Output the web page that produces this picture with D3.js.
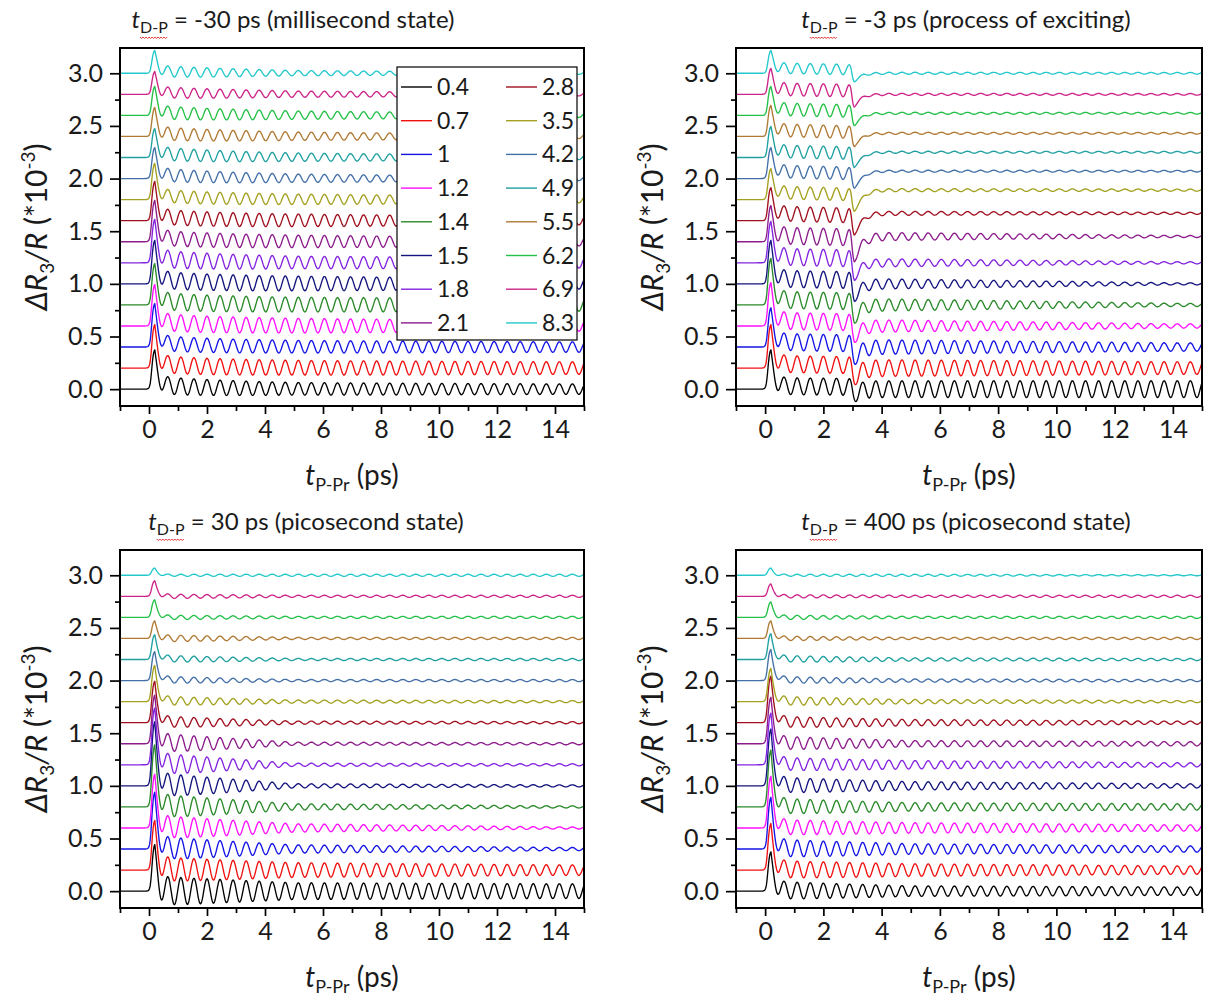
<!DOCTYPE html>
<html>
<head>
<meta charset="utf-8">
<script src="https://cdn.jsdelivr.net/npm/d3@7"></script>
<style>
  body { margin: 0; background: #fff; }
</style>
</head>
<body>
<div id="chart"></div>
<script>
// ---- data ----
const fluences = ["0.4", "0.7", "1", "1.2", "1.4", "1.5", "1.8", "2.1",
                  "2.8", "3.5", "4.2", "4.9", "5.5", "6.2", "6.9", "8.3"];
const offsets  = [0, 0.2, 0.4, 0.6, 0.8, 1.0, 1.2, 1.4, 1.6, 1.8, 2.0, 2.2, 2.4, 2.6, 2.8, 3.0];
const colors   = ["#000000", "#f01010", "#1414e6", "#ff10ff", "#2a8a2a", "#14147e", "#8424e0", "#8c1c8c",
                  "#a0101e", "#a4a020", "#4470a8", "#20a0a0", "#b07a34", "#24c048", "#cc2488", "#24c8cc"];
const xTicks = [0, 2, 4, 6, 8, 10, 12, 14];
const xMinor = [-1, 1, 3, 5, 7, 9, 11, 13, 15];
const yTicks = [0, 0.5, 1.0, 1.5, 2.0, 2.5, 3.0];
const yMinor = [0.25, 0.75, 1.25, 1.75, 2.25, 2.75];
const titleDelay = ["-30 ps (millisecond state)", "-3 ps (process of exciting)",
                    "30 ps (picosecond state)", "400 ps (picosecond state)"];
const phononPeriod = 0.45; // ps, spacing of the oscillation maxima

// panel A: t_D-P = -30 ps
const peakA  = [0.38, 0.42, 0.42, 0.40, 0.40, 0.42, 0.42, 0.40, 0.38, 0.35, 0.30, 0.28, 0.28, 0.28, 0.22, 0.22];
const osc1A  = [0.08, 0.08, 0.07, 0.08, 0.08, 0.08, 0.08, 0.07, 0.07, 0.06, 0.06, 0.06, 0.06, 0.06, 0.05, 0.05];
const osc5A  = [0.06, 0.07, 0.06, 0.07, 0.07, 0.07, 0.06, 0.06, 0.06, 0.05, 0.04, 0.04, 0.04, 0.04, 0.03, 0.025];
const osc14A = [0.05, 0.06, 0.05, 0.05, 0.06, 0.05, 0.05, 0.04, 0.04, 0.03, 0.02, 0.02, 0.02, 0.02, 0.015, 0.01];
const bgA    = [0.04, 0.04, 0.04, 0.04, 0.04, 0.04, 0.04, 0.04, 0.04, 0.04, 0.04, 0.04, 0.03, 0.03, 0.02, 0.02];

// panel B: t_D-P = -3 ps (before / after the 3 ps dip)
const peakB   = [0.38, 0.42, 0.38, 0.42, 0.45, 0.42, 0.40, 0.35, 0.32, 0.30, 0.30, 0.30, 0.30, 0.28, 0.25, 0.22];
const preB    = [0.08, 0.08, 0.08, 0.08, 0.08, 0.08, 0.08, 0.08, 0.07, 0.06, 0.06, 0.06, 0.06, 0.06, 0.06, 0.05];
const bgB     = [0.03, 0.04, 0.05, 0.05, 0.05, 0.05, 0.06, 0.06, 0.07, 0.07, 0.07, 0.06, 0.06, 0.06, 0.05, 0.05];
const dipB    = [0.05, 0.10, 0.12, 0.12, 0.14, 0.14, 0.15, 0.18, 0.14, 0.12, 0.10, 0.10, 0.10, 0.10, 0.12, 0.08];
const post4B  = [0.08, 0.08, 0.07, 0.06, 0.06, 0.05, 0.04, 0.04, 0.02, 0.015, 0.01, 0.01, 0.01, 0.01, 0.01, 0.01];
const post14B = [0.08, 0.06, 0.04, 0.02, 0.015, 0.01, 0.01, 0.01, 0.01, 0.01, 0.008, 0.008, 0.008, 0.008, 0.008, 0.008];
const shiftB  = [0, 0, 0, 0, 0, 0, 0, 0.05, 0.07, 0.09, 0.07, 0.05, 0.03, 0.02, 0, 0];

// panel C: t_D-P = 30 ps
const peakC  = [0.45, 0.48, 0.55, 0.52, 0.60, 0.62, 0.55, 0.47, 0.40, 0.35, 0.28, 0.24, 0.17, 0.17, 0.15, 0.07];
const osc1C  = [0.13, 0.11, 0.10, 0.10, 0.10, 0.10, 0.09, 0.08, 0.05, 0.04, 0.03, 0.03, 0.03, 0.02, 0.02, 0.01];
const osc5C  = [0.08, 0.07, 0.04, 0.04, 0.03, 0.02, 0.015, 0.015, 0.015, 0.015, 0.01, 0.01, 0.01, 0.01, 0.01, 0.01];
const osc14C = [0.07, 0.05, 0.015, 0.01, 0.01, 0.01, 0.01, 0.01, 0.01, 0.01, 0.01, 0.01, 0.01, 0.01, 0.01, 0.01];
const bgC    = [0.0, 0.01, 0.01, 0.01, 0.01, 0.01, 0.01, 0.01, 0.01, 0.01, 0.01, 0.01, 0.0, 0.0, 0.0, 0.0];

// panel D: t_D-P = 400 ps
const peakD  = [0.38, 0.45, 0.50, 0.50, 0.55, 0.55, 0.50, 0.45, 0.45, 0.32, 0.30, 0.25, 0.17, 0.15, 0.12, 0.07];
const osc1D  = [0.08, 0.08, 0.08, 0.07, 0.07, 0.07, 0.06, 0.06, 0.05, 0.04, 0.03, 0.03, 0.02, 0.02, 0.015, 0.01];
const osc5D  = [0.05, 0.06, 0.05, 0.05, 0.04, 0.04, 0.04, 0.03, 0.03, 0.02, 0.015, 0.015, 0.01, 0.01, 0.01, 0.01];
const osc14D = [0.04, 0.04, 0.03, 0.03, 0.03, 0.02, 0.02, 0.02, 0.015, 0.01, 0.01, 0.01, 0.01, 0.01, 0.01, 0.005];
const bgD    = [0.01, 0.01, 0.01, 0.01, 0.01, 0.01, 0.01, 0.01, 0.01, 0.01, 0.01, 0.01, 0.0, 0.0, 0.0, 0.0];

// sampling grid of the delay axis
const times = d3.range(-1, 15.0001, 0.02);

const panels = [
  { title: titleDelay[0], peak: peakA, o1: osc1A, o5: osc5A, o14: osc14A, bg: bgA, bgTau: 2.0,
    box: { x0: 120, x1: 584, y0: 48, y1: 406 }, titleX: 293, legend: true },
  { title: titleDelay[1], peak: peakB, o1: preB, o5: preB, o14: preB, bg: bgB, bgTau: 8.0,
    cut: { dip: dipB, a: post4B, b: post14B, shift: shiftB },
    box: { x0: 736, x1: 1202, y0: 48, y1: 406 }, titleX: 966 },
  { title: titleDelay[2], peak: peakC, o1: osc1C, o5: osc5C, o14: osc14C, bg: bgC, bgTau: 1.5,
    box: { x0: 120, x1: 584, y0: 550, y1: 908 }, titleX: 306 },
  { title: titleDelay[3], peak: peakD, o1: osc1D, o5: osc5D, o14: osc14D, bg: bgD, bgTau: 1.5,
    box: { x0: 736, x1: 1202, y0: 550, y1: 908 }, titleX: 966 }
];

// ---- helpers ----
const sig = v => 1 / (1 + Math.exp(-v));
const clamp01 = v => Math.max(0, Math.min(1, v));

function envelope(a1, a5, a14, t) {
  if (t <= 1) return a1;
  if (t <= 5) return a1 + (a5 - a1) * (t - 1) / 4;
  return a5 + (a14 - a5) * clamp01((t - 5) / 9);
}

function traceValues(p, i) {
  return times.map(t => {
    const on = sig((t - 0.08) / 0.03);
    const s = Math.max(0, t - 0.2);
    const carrier = Math.cos(2 * Math.PI * (t - 0.2) / phononPeriod);
    const A = envelope(p.o1[i], p.o5[i], p.o14[i], t);
    const fast = (p.peak[i] - p.o1[i] - p.bg[i]) * Math.exp(-s / 0.12);
    const slow = p.bg[i] * Math.exp(-s / p.bgTau);
    let y = on * (fast + slow + A * carrier);
    if (p.cut) {
      const c = p.cut;
      const g = sig((t - 3.0) / 0.03);
      const Ap = c.a[i] + (c.b[i] - c.a[i]) * clamp01((t - 3.5) / 10.5);
      const post = Ap * carrier + c.shift[i] * sig((t - 3.35) / 0.15);
      const dip = c.dip[i] * sig((t - 2.98) / 0.025) * Math.exp(-Math.max(0, t - 3.06) / 0.22);
      y = (1 - g) * y + g * post - dip;
    }
    return { t, v: offsets[i] + y };
  });
}

// ---- drawing ----
const W = 1208, H = 1005;
const FONT = "Lato, 'Open Sans', sans-serif";
const svg = d3.select("#chart").append("svg")
  .attr("width", W)
  .attr("height", H)
  .style("font-family", FONT);

function squiggle(g, x0, x1, y) {
  let d = `M${x0},${y}`;
  for (let x = x0; x < x1; x += 3) d += ` l1.5,1.5 l1.5,-1.5`;
  g.append("path").attr("d", d).attr("fill", "none")
    .attr("stroke", "#e02020").attr("stroke-width", 0.9);
}

panels.forEach((p, k) => {
  const b = p.box;
  const x = d3.scaleLinear().domain([-1, 15]).range([b.x0, b.x1]);
  const y = d3.scaleLinear().domain([-0.16, 3.24]).range([b.y1, b.y0]);
  const g = svg.append("g");

  const clipId = "clip" + k;
  g.append("clipPath").attr("id", clipId)
    .append("rect").attr("x", b.x0).attr("y", b.y0)
    .attr("width", b.x1 - b.x0).attr("height", b.y1 - b.y0);

  const line = d3.line().x(d => x(d.t)).y(d => y(d.v));
  const gl = g.append("g").attr("clip-path", `url(#${clipId})`);
  fluences.forEach((f, i) => {
    gl.append("path")
      .datum(traceValues(p, i))
      .attr("d", line)
      .attr("fill", "none")
      .attr("stroke", colors[i])
      .attr("stroke-width", 1.35)
      .attr("stroke-linejoin", "round");
  });

  // axes
  g.append("g").attr("transform", `translate(0,${b.y1})`)
    .call(d3.axisBottom(x).tickValues(xTicks).tickSize(8).tickPadding(6).tickFormat(d3.format("d")));
  g.append("g").attr("transform", `translate(0,${b.y1})`)
    .call(d3.axisBottom(x).tickValues(xMinor).tickSize(5).tickFormat(""));
  g.append("g").attr("transform", `translate(${b.x0},0)`)
    .call(d3.axisLeft(y).tickValues(yTicks).tickSize(10).tickPadding(7).tickFormat(d3.format(".1f")));
  g.append("g").attr("transform", `translate(${b.x0},0)`)
    .call(d3.axisLeft(y).tickValues(yMinor).tickSize(5).tickFormat(""));

  g.selectAll(".domain").remove();
  g.selectAll(".tick line").attr("stroke", "#000").attr("stroke-width", 1.7);
  g.selectAll(".tick text").attr("fill", "#1a1a1a").style("font-size", "25px")
    .style("font-family", FONT);

  g.append("rect")
    .attr("x", b.x0).attr("y", b.y0)
    .attr("width", b.x1 - b.x0).attr("height", b.y1 - b.y0)
    .attr("fill", "none").attr("stroke", "#000").attr("stroke-width", 2);

  // title
  const tt = g.append("text")
    .attr("x", p.titleX).attr("y", b.y0 - 20)
    .attr("text-anchor", "middle")
    .style("font-size", "24px").attr("fill", "#1a1a1a");
  tt.append("tspan").style("font-style", "italic").text("t");
  const sub = tt.append("tspan").attr("dy", 5).style("font-size", "16px").text("D-P");
  tt.append("tspan").attr("dy", -5).text(" = " + p.title);
  const sb = sub.node().getBBox();
  squiggle(g, sb.x, sb.x + sb.width - 4, b.y0 - 11);

  // x-axis title
  const xt = g.append("text")
    .attr("x", (b.x0 + b.x1) / 2).attr("y", b.y1 + 79)
    .attr("text-anchor", "middle")
    .style("font-size", "28px").attr("fill", "#1a1a1a");
  xt.append("tspan").style("font-style", "italic").text("t");
  xt.append("tspan").attr("dy", 6).style("font-size", "18px").text("P-Pr");
  xt.append("tspan").attr("dy", -6).text(" (ps)");

  // y-axis title
  const yt = g.append("text")
    .attr("transform", `translate(${b.x0 - 73},${(b.y0 + b.y1) / 2}) rotate(-90)`)
    .attr("text-anchor", "middle")
    .style("font-size", "30px").attr("fill", "#1a1a1a");
  yt.append("tspan").style("font-style", "italic").text("ΔR");
  yt.append("tspan").attr("dy", 7).style("font-size", "19px").text("3");
  yt.append("tspan").attr("dy", -7).style("font-style", "italic").text("/R");
  yt.append("tspan").text(" (*10");
  yt.append("tspan").attr("dy", -12).style("font-size", "19px").text("-3");
  yt.append("tspan").attr("dy", 12).text(")");

  // legend
  if (p.legend) {
    const lg = g.append("g");
    const lx = 397, ly = 67, lw = 180, lh = 273;
    lg.append("rect").attr("x", lx).attr("y", ly).attr("width", lw).attr("height", lh)
      .attr("fill", "#fff").attr("stroke", "#000").attr("stroke-width", 1.2);
    fluences.forEach((f, i) => {
      const col = Math.floor(i / 8), row = i % 8;
      const cx = lx + 4 + col * 105, cy = ly + 20 + row * 33.7;
      lg.append("line").attr("x1", cx).attr("x2", cx + 31).attr("y1", cy).attr("y2", cy)
        .attr("stroke", colors[i]).attr("stroke-width", 1.4);
      lg.append("text").attr("x", cx + 36).attr("y", cy + 8)
        .style("font-size", "23px").attr("fill", "#1a1a1a").text(f);
    });
  }
});
</script>
</body>
</html>
